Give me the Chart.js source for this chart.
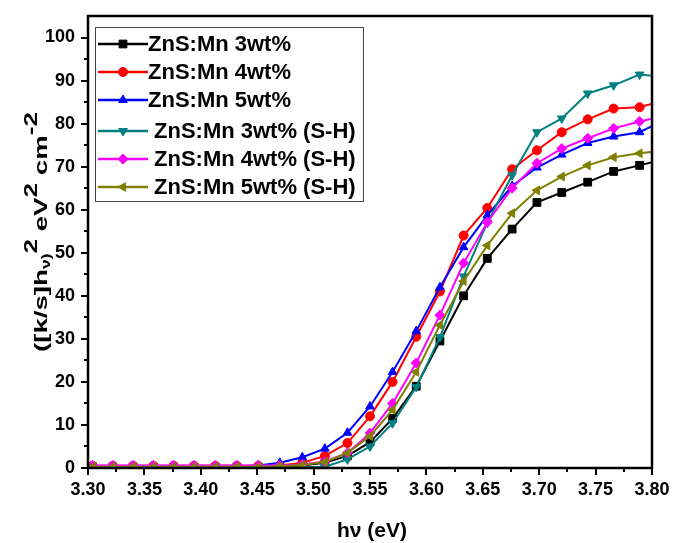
<!DOCTYPE html>
<html>
<head>
<meta charset="utf-8">
<script src="https://cdn.jsdelivr.net/npm/chart.js@4.4.0/dist/chart.umd.min.js"></script>
<style>
  html, body { margin: 0; padding: 0; background: #ffffff; }
  #wrap { width: 673px; height: 543px; position: relative; }
</style>
</head>
<body>
<div id="wrap"><canvas id="graphCanvas"></canvas></div>
<script>
// photon energy (eV)
const hv = [3.286, 3.304, 3.322, 3.340, 3.358, 3.376, 3.394, 3.413, 3.432, 3.451, 3.470, 3.490, 3.510, 3.530,
            3.550, 3.570, 3.591, 3.612, 3.633, 3.654, 3.676, 3.698, 3.720, 3.743, 3.766, 3.789, 3.812];

const mn3 = [0.3, 0.3, 0.2, 0.2, 0.2, 0.2, 0.2, 0.2, 0.2, 0.2, 0.3, 0.6, 1.2, 2.8,
             6, 11.5, 19, 29.5, 40, 48.7, 55.5, 61.7, 64, 66.4, 68.9, 70.3, 71.8];
const mn4 = [0.5, 0.5, 0.5, 0.5, 0.5, 0.5, 0.5, 0.5, 0.5, 0.5, 0.6, 1.2, 2.8, 5.8,
             12, 20, 30.5, 41, 54, 60.4, 69.4, 73.8, 78, 81, 83.5, 83.8, 85.5];
const mn5 = [0.4, 0.4, 0.4, 0.4, 0.4, 0.4, 0.4, 0.4, 0.4, 0.6, 1.2, 2.5, 4.5, 8.2,
             14.3, 22.3, 31.8, 42, 51.3, 58.7, 65.5, 69.8, 72.8, 75.5, 77, 78, 81];
const mn3sh = [0.2, 0.2, 0.1, 0.1, 0.1, 0.1, 0.1, 0.1, 0.1, 0.1, 0.1, 0.2, 0.3, 2,
               5, 10.4, 18.8, 30.4, 44.5, 57, 68, 78, 81.2, 87, 88.9, 91.4, 90.8];
const mn4sh = [0.6, 0.6, 0.6, 0.6, 0.6, 0.6, 0.6, 0.6, 0.6, 0.6, 0.6, 0.8, 1.5, 3.5,
               8.1, 15, 24.4, 35.5, 47.6, 57.1, 65, 70.8, 74.2, 76.6, 78.9, 80.5, 81.8];
const mn5sh = [0.3, 0.3, 0.3, 0.3, 0.3, 0.3, 0.3, 0.3, 0.3, 0.3, 0.4, 0.7, 1.4, 3.5,
               7.4, 13.5, 22.3, 33.2, 43.4, 51.7, 59.2, 64.5, 67.7, 70.3, 72.2, 73.1, 73.8];

const seriesNames = ['ZnS:Mn 3wt%', 'ZnS:Mn 4wt%', 'ZnS:Mn 5wt%',
                     'ZnS:Mn 3wt% (S-H)', 'ZnS:Mn 4wt% (S-H)', 'ZnS:Mn 5wt% (S-H)'];
const seriesValues = [mn3, mn4, mn5, mn3sh, mn4sh, mn5sh];
const colors = ['#000000', '#ff0000', '#0000ff', '#008080', '#ff00ff', '#808000'];
const markers = ['rect', 'circle', 'triangle', 'triangle', 'rectRot', 'triangle'];
const markerRot = [0, 0, 0, 180, 0, -90];
const markerSize = [5.5, 4.5, 5, 5, 5, 5];

const xMin = 3.30, xMax = 3.80, xStep = 0.05;
const yMin = 0, yMax = 105, yStep = 10;

const FONT = 'Liberation Sans, Arial, sans-serif';

const datasets = seriesNames.map((name, i) => ({
  label: name,
  data: hv.map((x, k) => ({ x: x, y: seriesValues[i][k] })),
  borderColor: colors[i],
  backgroundColor: colors[i],
  borderWidth: 2,
  pointStyle: markers[i],
  pointRotation: markerRot[i],
  pointRadius: markerSize[i],
  pointBorderWidth: 1,
  order: 6 - i,
  clip: 0,
}));

// frame + major/minor ticks like the origin plot
const frameTicks = {
  id: 'frameTicks',
  afterDraw(chart) {
    const { ctx, chartArea: a, scales } = chart;
    const xs = scales.x, ys = scales.y;
    ctx.save();
    ctx.strokeStyle = '#000';
    ctx.lineWidth = 2.5;
    ctx.strokeRect(a.left, a.top, a.right - a.left, a.bottom - a.top);
    ctx.lineWidth = 2;
    ctx.beginPath();
    for (let v = yMin; v <= 100 + 1e-9; v += yStep / 2) {
      const p = Math.round(ys.getPixelForValue(v));
      const major = Math.abs(v / yStep - Math.round(v / yStep)) < 1e-6;
      ctx.moveTo(a.left, p);
      ctx.lineTo(a.left - (major ? 7 : 4), p);
    }
    for (let v = xMin; v <= xMax + 1e-9; v += xStep / 2) {
      const p = Math.round(xs.getPixelForValue(v));
      const k = Math.round((v - xMin) / (xStep / 2));
      ctx.moveTo(p, a.bottom);
      ctx.lineTo(p, a.bottom + (k % 2 === 0 ? 7 : 4));
    }
    ctx.stroke();
    ctx.restore();
  }
};

// axis titles with super/subscripts
const axisTitles = {
  id: 'axisTitles',
  afterDraw(chart) {
    const { ctx } = chart;
    ctx.save();
    ctx.fillStyle = '#000';
    ctx.textBaseline = 'alphabetic';
    ctx.textAlign = 'center';
    ctx.font = 'bold 21px ' + FONT;
    ctx.fillText('h\u03BD (eV)', 372, 537);

    const parts = [
      { t: '([k/s]h', s: 19, dy: 0 },
      { t: '\u03BD)', s: 12, dy: 3 },
      { t: '2', s: 18, dy: -10 },
      { t: ' eV', s: 19, dy: 0 },
      { t: '2', s: 18, dy: -10 },
      { t: ' cm', s: 19, dy: 0 },
      { t: '-2', s: 18, dy: -10 },
    ];
    ctx.textAlign = 'left';
    let total = 0;
    parts.forEach(p => { ctx.font = 'bold ' + p.s + 'px ' + FONT; p.w = ctx.measureText(p.t).width; total += p.w; });
    ctx.translate(47, 232);
    ctx.rotate(-Math.PI / 2);
    ctx.scale(240 / total, 1);
    let x = -total / 2;
    parts.forEach(p => {
      ctx.font = 'bold ' + p.s + 'px ' + FONT;
      ctx.fillText(p.t, x, p.dy);
      x += p.w;
    });
    ctx.restore();
  }
};

// boxed legend inside the plot
const legendBox = {
  id: 'legendBox',
  afterDraw(chart) {
    const ctx = chart.ctx;
    const rowY = [44, 72, 100, 131, 159, 187];
    ctx.save();
    ctx.strokeStyle = '#444';
    ctx.lineWidth = 1;
    ctx.fillStyle = '#fff';
    ctx.fillRect(96, 27, 267, 174);
    ctx.strokeRect(95.5, 27.5, 268, 174);
    chart.data.datasets.forEach((ds, i) => {
      const y = rowY[i];
      ctx.strokeStyle = ds.borderColor;
      ctx.fillStyle = ds.backgroundColor;
      ctx.lineWidth = 2.5;
      ctx.beginPath();
      ctx.moveTo(98, y);
      ctx.lineTo(148, y);
      ctx.stroke();
      ctx.lineWidth = 1;
      Chart.helpers.drawPoint(ctx, {
        pointStyle: ds.pointStyle, radius: ds.pointRadius, rotation: ds.pointRotation, borderWidth: 1
      }, 123, y);
      ctx.fillStyle = '#000';
      ctx.font = 'bold 22px ' + FONT;
      ctx.textBaseline = 'middle';
      ctx.fillText(ds.label, i < 3 ? 148 : 154, y + 1);
    });
    ctx.restore();
  }
};

const noPad = (s) => { s.paddingLeft = 0; s.paddingRight = 0; s.paddingTop = 0; s.paddingBottom = 0; };

new Chart(document.getElementById('graphCanvas'), {
  type: 'line',
  data: { datasets: datasets },
  options: {
    responsive: true,
    maintainAspectRatio: false,
    animation: false,
    layout: { padding: { left: 0, top: 16, right: 21, bottom: 0 } },
    plugins: { legend: { display: false }, tooltip: { enabled: false } },
    scales: {
      x: {
        type: 'linear',
        min: xMin, max: xMax,
        grid: { display: false, drawTicks: false },
        border: { display: false },
        afterFit: (s) => { s.height = 75; noPad(s); },
        ticks: {
          stepSize: xStep, autoSkip: false, maxRotation: 0, padding: 11,
          color: '#000', font: { family: FONT, size: 18, weight: 'bold' },
          callback: (v) => Number(v).toFixed(2)
        }
      },
      y: {
        type: 'linear',
        min: yMin, max: yMax,
        grid: { display: false, drawTicks: false },
        border: { display: false },
        afterFit: (s) => { s.width = 88; noPad(s); },
        afterBuildTicks: (s) => { s.ticks = s.ticks.filter(t => t.value <= 100); },
        ticks: {
          stepSize: yStep, padding: 13,
          color: '#000', font: { family: FONT, size: 18, weight: 'bold' }
        }
      }
    }
  },
  plugins: [frameTicks, axisTitles, legendBox]
});
</script>
</body>
</html>
